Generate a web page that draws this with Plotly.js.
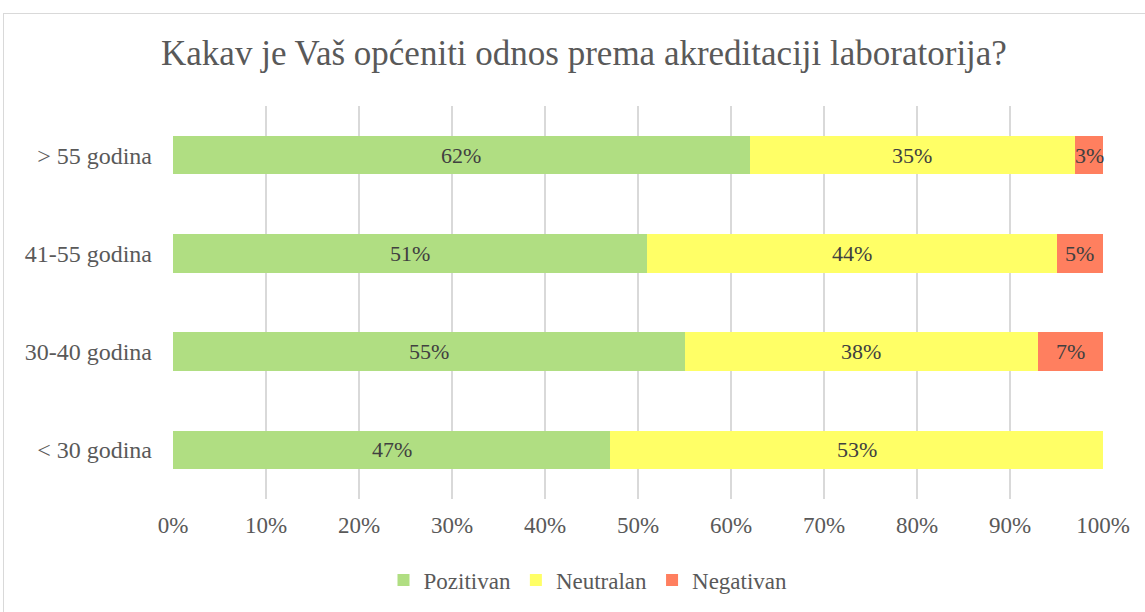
<!DOCTYPE html>
<html><head><meta charset="utf-8">
<script src="https://cdn.plot.ly/plotly-3.0.1.min.js"></script>
<style>
body{margin:0;background:#fff;}
#border{position:absolute;left:3px;top:13px;width:1160px;height:620px;border:1px solid #d9d9d9;box-sizing:border-box;pointer-events:none;}
#chart{position:absolute;left:0;top:0;width:1145px;height:612px;}
</style></head>
<body>
<div id="chart"></div>
<div id="border"></div>
<script>
const categories = ['< 30 godina', '30-40 godina', '41-55 godina', '> 55 godina'];
const pozitivan = [47, 55, 51, 62];
const neutralan = [53, 38, 44, 35];
const negativan = [0, 7, 5, 3];
const seriesNames = ['Pozitivan', 'Neutralan', 'Negativan'];
const colors = ['#B0DE82', '#FFFF66', '#FF7F5F'];
const tickVals = [0,10,20,30,40,50,60,70,80,90,100];
const tickText = tickVals.map(v => v + '%');

const font = 'Liberation Serif';
const series = [pozitivan, neutralan, negativan];
const traces = series.map((vals, i) => ({
  type: 'bar', orientation: 'h',
  y: categories, x: vals, name: seriesNames[i],
  marker: {color: colors[i]},
  hoverinfo: 'none'
}));

const annotations = [];
categories.forEach((c, j) => {
  let base = 0;
  series.forEach(vals => {
    const v = vals[j];
    if (v > 0) {
      annotations.push({x: base + v / 2, y: c, xref: 'x', yref: 'y', text: v + '%', showarrow: false,
        font: {family: font, size: 22, color: '#404040'}});
    }
    base += v;
  });
});

const layout = {
  width: 1145, height: 612,
  margin: {l: 173, r: 42, t: 106, b: 112},
  paper_bgcolor: 'rgba(0,0,0,0)', plot_bgcolor: '#fff',
  barmode: 'stack', bargap: 0.61,
  annotations: annotations,
  title: {text: 'Kakav je Vaš općeniti odnos prema akreditaciji laboratorija?',
    font: {family: font, size: 35, color: '#595959'}, x: 584/1145, xanchor: 'center', y: 1 - 53/612, yanchor: 'middle'},
  xaxis: {range: [0, 100], tickvals: tickVals, ticktext: tickText,
    showgrid: true, gridcolor: '#d9d9d9', gridwidth: 2, zeroline: false, showline: false,
    tickfont: {family: font, size: 23, color: '#595959'}, ticks: '', ticklabelstandoff: 10, fixedrange: true},
  yaxis: {showgrid: false, zeroline: false, showline: false, ticks: '',
    tickfont: {family: font, size: 24, color: '#595959'}, ticklabelstandoff: 20, fixedrange: true},
  showlegend: true,
  legend: {orientation: 'h', x: (588-173)/930, xanchor: 'center', y: -(580-500)/394, yanchor: 'middle',
    font: {family: font, size: 23, color: '#595959'}, traceorder: 'normal', itemwidth: 30},
};
Plotly.newPlot('chart', traces, layout, {displayModeBar: false, staticPlot: true});
</script>
</body></html>
